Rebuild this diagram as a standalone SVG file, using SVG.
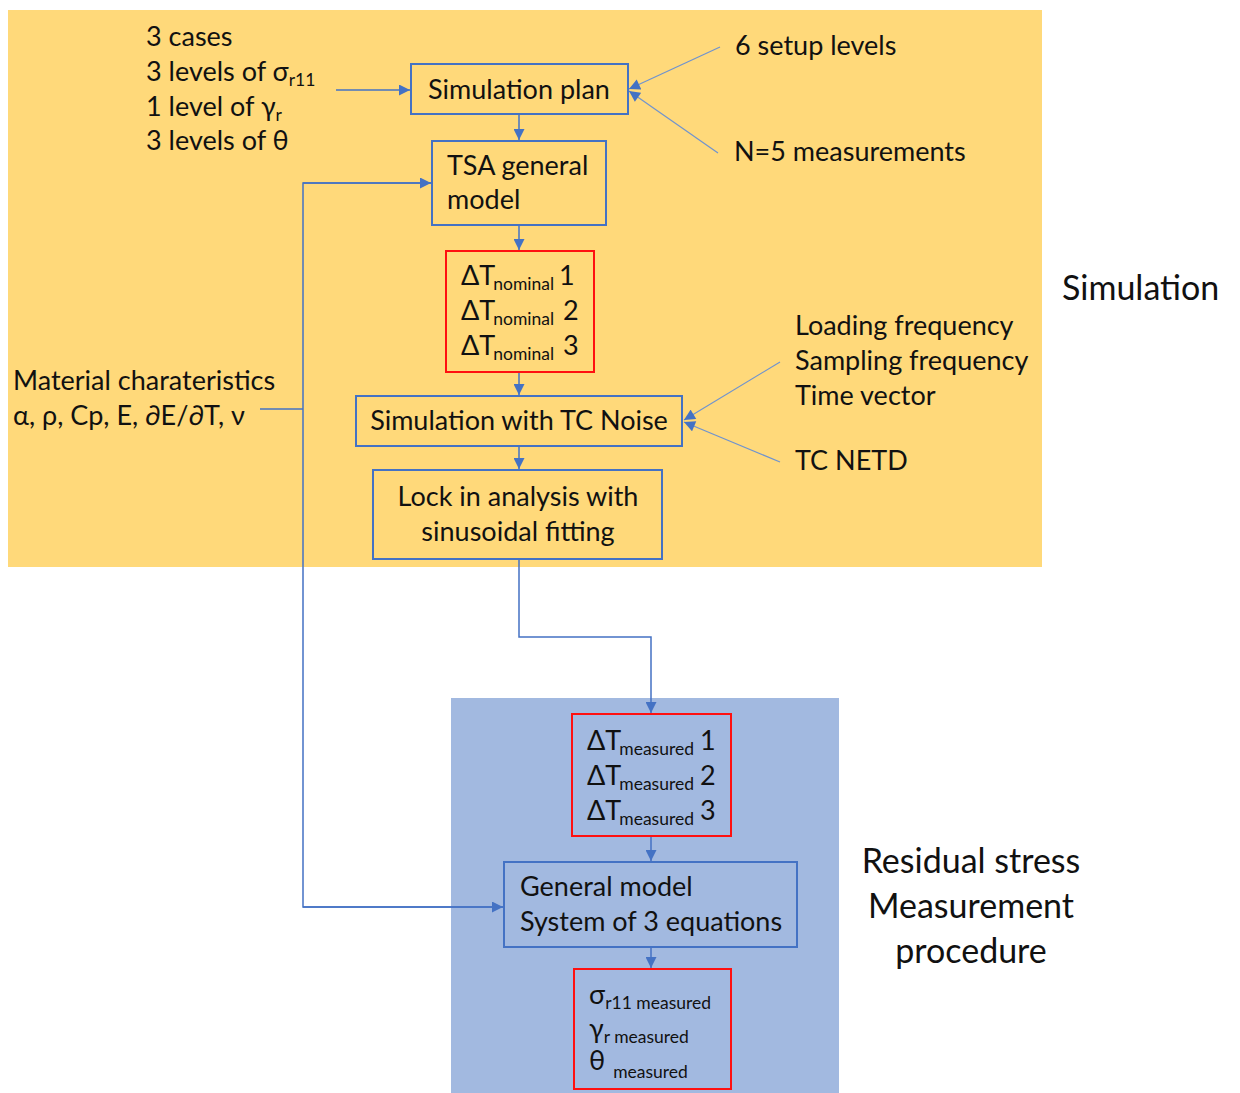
<svg xmlns="http://www.w3.org/2000/svg" width="1240" height="1093" viewBox="0 0 1240 1093">
  <style>
    text { font-family: Lato, "Liberation Sans", sans-serif; font-size: 27px; fill: #111; }
    .sub { font-size: 17.5px; }
    .big { font-size: 34px; }
    .box { fill: none; stroke: #4472C4; stroke-width: 2; }
    .red { fill: none; stroke: #FF1010; stroke-width: 2; }
    .conn { fill: none; stroke: #4472C4; stroke-width: 1.5; }
    .thin { fill: none; stroke: #6F93CF; stroke-width: 1.2; }
  </style>
  <defs>
    <marker id="arr" viewBox="0 0 10 10" refX="10" refY="5" markerUnits="userSpaceOnUse" markerWidth="12" markerHeight="11" orient="auto">
      <path d="M0,0 L10,5 L0,10 z" fill="#4472C4"/>
    </marker>
  </defs>

  <!-- background panels -->
  <rect x="8" y="10" width="1034" height="557" fill="#FFD97A"/>
  <rect x="451" y="698" width="388" height="395" fill="#A2B9E0"/>

  <!-- connectors -->
  <g id="connectors">
    <line class="conn" x1="336" y1="90" x2="410" y2="90" marker-end="url(#arr)"/>
    <line class="thin" x1="720" y1="47" x2="629" y2="89" marker-end="url(#arr)"/>
    <line class="thin" x1="718" y1="153" x2="629" y2="91" marker-end="url(#arr)"/>
    <line class="conn" x1="519" y1="114" x2="519" y2="140" marker-end="url(#arr)"/>
    <line class="conn" x1="519" y1="225" x2="519" y2="250" marker-end="url(#arr)"/>
    <line class="conn" x1="519" y1="372" x2="519" y2="395" marker-end="url(#arr)"/>
    <line class="conn" x1="519" y1="446" x2="519" y2="469" marker-end="url(#arr)"/>
    <line class="thin" x1="780" y1="362" x2="684" y2="420" marker-end="url(#arr)"/>
    <line class="thin" x1="780" y1="462" x2="684" y2="422" marker-end="url(#arr)"/>
    <polyline class="conn" points="519,559 519,637 651,637 651,713" marker-end="url(#arr)"/>
    <line class="conn" x1="651" y1="836" x2="651" y2="861" marker-end="url(#arr)"/>
    <line class="conn" x1="651" y1="947" x2="651" y2="968" marker-end="url(#arr)"/>
    <line class="conn" x1="260" y1="409" x2="303" y2="409"/>
    <polyline class="conn" points="431,183 303,183 303,907 503,907"/>
    <line class="conn" x1="303" y1="183" x2="431" y2="183" marker-end="url(#arr)"/>
    <line class="conn" x1="303" y1="907" x2="503" y2="907" marker-end="url(#arr)"/>
  </g>

  <!-- plan inputs -->
  <g id="plan-inputs">
    <text x="146" y="46">3 cases</text>
    <text x="146" y="81">3 levels of σ<tspan class="sub" dy="5">r11</tspan></text>
    <text x="146" y="116">1 level of γ<tspan class="sub" dy="5">r</tspan></text>
    <text x="146" y="150">3 levels of θ</text>
  </g>

  <g id="simulation-plan">
    <rect class="box" x="411" y="64" width="217" height="50"/>
    <text x="519" y="99" text-anchor="middle">Simulation plan</text>
  </g>

  <g id="setup-levels"><text x="735" y="55">6 setup levels</text></g>
  <g id="measurements"><text x="734" y="161">N=5 measurements</text></g>

  <g id="tsa-model">
    <rect class="box" x="432" y="141" width="174" height="84"/>
    <text x="447" y="175">TSA general</text>
    <text x="447" y="209">model</text>
  </g>

  <g id="nominal">
    <rect class="red" x="446" y="251" width="148" height="121"/>
    <text x="461" y="285">ΔT<tspan class="sub" dx="-2" dy="5">nominal</tspan></text>
    <text x="559" y="285">1</text>
    <text x="461" y="320">ΔT<tspan class="sub" dx="-2" dy="5">nominal</tspan></text>
    <text x="563" y="320">2</text>
    <text x="461" y="355">ΔT<tspan class="sub" dx="-2" dy="5">nominal</tspan></text>
    <text x="563" y="355">3</text>
  </g>

  <g id="material">
    <text x="13" y="390">Material charateristics</text>
    <text x="13" y="425">α, ρ, Cp, E, ∂E/∂T, ν</text>
  </g>

  <g id="tc-noise">
    <rect class="box" x="356" y="396" width="326" height="50"/>
    <text x="519" y="430" text-anchor="middle">Simulation with TC Noise</text>
  </g>

  <g id="signal-params">
    <text x="795" y="335">Loading frequency</text>
    <text x="795" y="370">Sampling frequency</text>
    <text x="795" y="405">Time vector</text>
  </g>
  <g id="netd"><text x="795" y="470">TC NETD</text></g>

  <g id="lock-in">
    <rect class="box" x="373" y="470" width="289" height="89"/>
    <text x="518" y="506" text-anchor="middle">Lock in analysis with</text>
    <text x="518" y="541" text-anchor="middle">sinusoidal fitting</text>
  </g>

  <g id="simulation-label"><text class="big" x="1062" y="300">Simulation</text></g>

  <g id="measured">
    <rect class="red" x="572" y="714" width="159" height="122"/>
    <text x="587" y="750">ΔT<tspan class="sub" dx="-2" dy="5">measured</tspan></text>
    <text x="700" y="750">1</text>
    <text x="587" y="785">ΔT<tspan class="sub" dx="-2" dy="5">measured</tspan></text>
    <text x="700" y="785">2</text>
    <text x="587" y="820">ΔT<tspan class="sub" dx="-2" dy="5">measured</tspan></text>
    <text x="700" y="820">3</text>
  </g>

  <g id="general-model">
    <rect class="box" x="504" y="862" width="293" height="85"/>
    <text x="520" y="896">General model</text>
    <text x="520" y="931">System of 3 equations</text>
  </g>

  <g id="results">
    <rect class="red" x="574" y="969" width="157" height="120"/>
    <text x="589" y="1004">σ<tspan class="sub" dy="5">r11 measured</tspan></text>
    <text x="589" y="1038">γ<tspan class="sub" dy="5">r measured</tspan></text>
    <text x="589" y="1070">θ<tspan class="sub" dx="8" dy="8">measured</tspan></text>
  </g>

  <g id="procedure-label">
    <text class="big" x="971" y="873" text-anchor="middle">Residual stress</text>
    <text class="big" x="971" y="918" text-anchor="middle">Measurement</text>
    <text class="big" x="971" y="963" text-anchor="middle">procedure</text>
  </g>
</svg>
